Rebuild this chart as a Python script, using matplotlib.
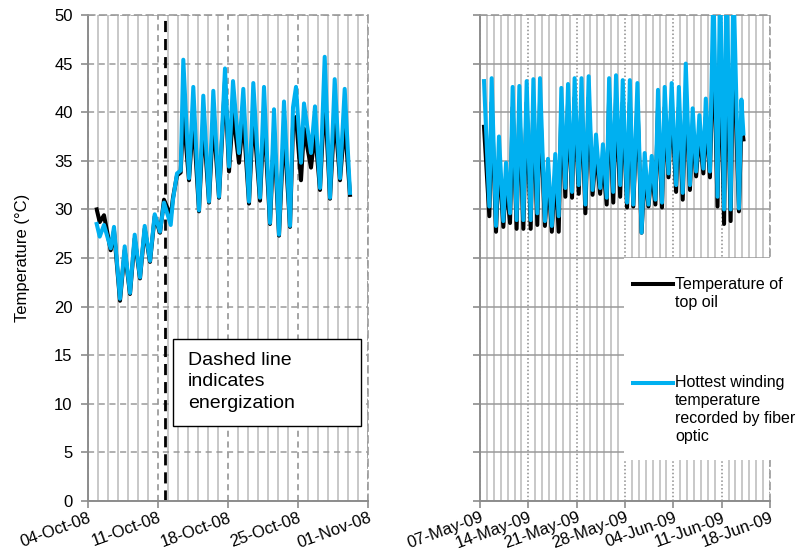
import matplotlib
matplotlib.use("Agg")
import matplotlib.pyplot as plt
import matplotlib.dates as mdates
from matplotlib.lines import Line2D
from matplotlib.patches import Rectangle
from datetime import datetime, timedelta

plt.rcParams['font.family'] = ['Liberation Sans', 'DejaVu Sans']
plt.rcParams['font.size'] = 12

# ---- data (days after the first date of each panel) ----
left_start = datetime(2008, 10, 4)
left_days = [0.87, 1.17, 1.6, 2.27, 2.6, 3.2, 3.67, 4.2, 4.67, 5.2, 5.67, 6.2, 6.67, 7.2,
             7.6, 8.27, 8.5, 8.9, 9.27, 9.53, 10.1, 10.53, 11.1, 11.53, 12.1, 12.53, 13.1,
             13.7, 14.1, 14.5, 15.1, 15.53, 16.1, 16.53, 17.2, 17.6, 18.2, 18.6, 19.1, 19.6,
             20.2, 20.5, 20.8, 21.3, 21.6, 22.3, 22.7, 23.2, 23.67, 24.2, 24.67, 25.2,
             25.67, 26.2]
left_fiber = [28.5, 27.2, 28.4, 26.0, 28.2, 20.8, 26.2, 21.4, 27.4, 23.0, 28.3, 24.7, 29.5,
              27.7, 30.7, 28.4, 31.0, 33.7, 34.0, 45.4, 33.2, 42.6, 29.9, 41.7, 30.8, 42.2,
              31.3, 44.5, 34.4, 43.2, 35.8, 42.4, 30.8, 43.0, 31.2, 42.6, 28.6, 40.3, 27.4,
              41.1, 28.3, 40.5, 42.6, 34.8, 40.9, 35.8, 40.6, 32.2, 45.7, 31.2, 43.4, 33.2,
              42.4, 31.7]
left_oil = [30.0, 28.7, 29.4, 25.8, 27.8, 20.6, 25.8, 21.3, 27.0, 22.9, 28.0, 24.6, 29.3,
            27.6, 31.0, 29.3, 31.2, 33.5, 33.8, 40.0, 33.0, 39.5, 29.8, 39.2, 30.7, 39.5,
            31.2, 43.2, 33.9, 40.0, 34.8, 39.5, 30.6, 40.0, 30.9, 39.8, 28.5, 38.0, 27.3,
            38.5, 28.2, 38.5, 39.5, 33.0, 38.3, 34.3, 38.0, 32.0, 41.9, 31.1, 40.0, 33.0,
            39.0, 31.5]
energized_day = 7.7

right_start = datetime(2009, 5, 7)
right_days = [0.58, 1.35, 1.69, 2.32, 2.75, 3.38, 3.77, 4.35, 4.73, 5.3, 5.7, 6.28, 6.76,
              7.34, 7.73, 8.3, 8.69, 9.4, 9.85, 10.4, 10.9, 11.4, 11.78, 12.36, 12.75,
              13.33, 13.7, 14.3, 14.7, 15.26, 15.74, 16.3, 16.8, 17.4, 17.8, 18.35, 18.7,
              19.3, 19.7, 20.3, 20.67, 21.3, 21.7, 22.2, 22.8, 23.4, 23.85, 24.4, 24.87,
              25.4, 25.78, 26.36, 26.75, 27.3, 27.76, 28.4, 28.8, 29.36, 29.8, 30.4, 30.8,
              31.3, 31.77, 32.35, 32.7, 33.3, 33.8, 34.4, 34.77, 35.35, 35.7, 36.3, 36.7,
              37.5, 37.86, 38.15]
right_fiber = [43.2, 30.3, 43.5, 28.3, 37.5, 28.8, 34.8, 29.6, 42.6, 28.9, 42.7, 28.9, 43.2,
               28.9, 43.4, 29.6, 43.5, 28.8, 35.2, 28.3, 35.7, 29.3, 42.5, 32.2, 42.9, 31.8,
               43.5, 32.5, 43.5, 30.5, 43.7, 32.0, 37.7, 32.2, 36.7, 31.2, 43.5, 31.8, 43.8,
               32.5, 43.3, 30.7, 43.3, 30.5, 43.0, 27.6, 35.8, 30.5, 35.5, 31.0, 42.3, 30.7,
               42.6, 33.7, 43.0, 32.5, 42.6, 31.7, 45.0, 32.5, 40.4, 33.9, 39.7, 34.2, 41.4,
               33.9, 53.0, 31.3, 54.0, 30.0, 55.0, 30.0, 54.0, 30.1, 41.3, 37.8]
right_oil = [38.5, 29.3, 41.0, 27.7, 35.5, 28.2, 33.0, 28.6, 40.5, 28.0, 40.5, 28.0, 41.0,
             28.0, 41.0, 28.4, 41.0, 28.3, 33.5, 27.7, 34.0, 27.7, 40.5, 31.3, 41.0, 31.2,
             41.5, 31.6, 41.5, 29.6, 41.5, 31.5, 36.0, 31.6, 35.0, 30.5, 41.5, 30.7, 41.5,
             31.3, 41.0, 30.2, 41.0, 30.3, 41.0, 27.6, 34.0, 30.3, 34.0, 30.5, 40.5, 30.2,
             40.5, 33.3, 41.0, 31.8, 40.5, 31.0, 42.0, 32.0, 38.5, 33.4, 38.0, 33.7, 39.5,
             33.3, 48.0, 30.3, 48.0, 28.5, 48.0, 28.8, 48.0, 29.8, 39.0, 37.2]

oil_label = "Temperature of\ntop oil"
fiber_label = "Hottest winding\ntemperature\nrecorded by fiber\noptic"
note_text = "Dashed line\nindicates\nenergization"

BLUE = "#00b0f0"
LW = 2.9
W, H = 796, 553


def to_dates(start, days):
    return [start + timedelta(days=d) for d in days]


def fx(px):
    return px / W


def fy(py):
    return 1 - py / H


def style_axes(ax, start, n_weeks, hgrid_ls, vgrid_ls):
    ax.set_ylim(0, 50)
    ax.set_yticks(range(0, 51, 5))
    ax.set_xlim(start, start + timedelta(days=7 * n_weeks))
    ax.set_xticks([start + timedelta(days=7 * k) for k in range(n_weeks + 1)])
    ax.xaxis.set_minor_locator(mdates.DayLocator())
    ax.xaxis.set_major_formatter(mdates.DateFormatter('%d-%b-%y'))
    ax.set_axisbelow(True)
    ax.grid(which='minor', axis='x', color='#c8c8c8', lw=1.4, ls='-')
    ax.grid(which='major', axis='x', color='#8c8c8c', lw=1.1, ls=vgrid_ls)
    ax.grid(which='major', axis='y', color='#9a9a9a', lw=1.1, ls=hgrid_ls)
    for side in ['left', 'bottom']:
        ax.spines[side].set_color('#8c8c8c')
        ax.spines[side].set_linewidth(1.4)
    for side in ['top', 'right']:
        ax.spines[side].set_color('#9a9a9a')
        ax.spines[side].set_linewidth(1.2)
        ax.spines[side].set_linestyle((0, (4, 3)))
    ax.tick_params(which='major', direction='out', length=5, color='#8c8c8c', width=1.2,
                   labelsize=12)
    ax.tick_params(axis='y', pad=6)
    ax.tick_params(axis='x', pad=1.5)
    ax.tick_params(which='minor', length=0)
    for lab in ax.get_xticklabels():
        lab.set_rotation(20)
        lab.set_ha('right')
        lab.set_rotation_mode('anchor')


fig = plt.figure(figsize=(W / 100, H / 100), dpi=100)
ax1 = fig.add_axes([fx(88), fy(501), 280 / W, 486 / H])
ax2 = fig.add_axes([fx(480), fy(501), 290 / W, 486 / H])

# left panel
style_axes(ax1, left_start, 4, (0, (4, 3)), (0, (4, 3)))
ax1.axvline(left_start + timedelta(days=energized_day), color='black', lw=2,
            ls=(0, (4, 2.5)), zorder=2)
ld = to_dates(left_start, left_days)
ax1.plot(ld, left_oil, color='black', lw=LW, solid_joinstyle='round', zorder=3)
ax1.plot(ld, left_fiber, color=BLUE, lw=LW, solid_joinstyle='round', zorder=4)
ax1.set_ylabel('Temperature (°C)', fontsize=12, labelpad=17)

ax1.add_patch(Rectangle((85 / 280, 75 / 486), 188 / 280, 87 / 486, transform=ax1.transAxes,
                        facecolor='white', edgecolor='black', lw=1, zorder=6, clip_on=False))
ax1.text(100 / 280, (501 - 382) / 486, note_text, transform=ax1.transAxes, fontsize=14,
         va='center', ha='left', linespacing=1.38, zorder=7)

# right panel
style_axes(ax2, right_start, 6, '-', (0, (1, 1.5)))
ax2.tick_params(axis='y', labelleft=False)
rd = to_dates(right_start, right_days)
ax2.plot(rd, right_oil, color='black', lw=LW, solid_joinstyle='round', zorder=3,
         label=oil_label)
ax2.plot(rd, right_fiber, color=BLUE, lw=LW, solid_joinstyle='round', zorder=4,
         label=fiber_label)

# legend box (white, no border), keys aligned with the first line of each label
fig.add_artist(Rectangle((fx(624), fy(460)), 172 / W, 202 / H, transform=fig.transFigure,
                         facecolor='white', edgecolor='none', zorder=5))
for color, label, y in [('black', oil_label, 284), (BLUE, fiber_label, 383)]:
    fig.add_artist(Line2D([fx(633), fx(673)], [fy(y), fy(y)], color=color, lw=LW,
                          transform=fig.transFigure, zorder=6))
    fig.text(fx(675), fy(y - 7.5), label, fontsize=11.5, va='top', ha='left',
             linespacing=1.25, zorder=7)

fig.savefig('out.png', dpi=100)
